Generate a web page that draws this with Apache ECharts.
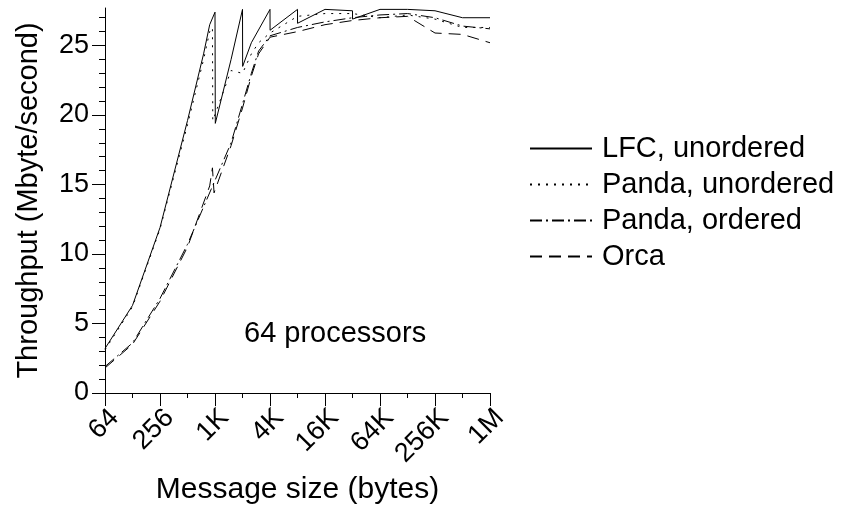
<!DOCTYPE html>
<html><head><meta charset="utf-8">
<script src="https://cdn.jsdelivr.net/npm/echarts@6/dist/echarts.min.js"></script>
<style>html,body{margin:0;padding:0;background:#fff}#c{width:843px;height:515px}</style>
</head><body><div id="c"></div>
<script>
// Message sizes in bytes and throughput in Mbyte/second
const lfcSizes = [64,128,256,512,768,896,1024,1032,1536,2048,2056,2560,4096,4104,8192,8200,16384,32768,32800,65536,131072,262144,524288,1048576];
const lfcValues = [3.2,6.3,11.9,19.6,24.4,26.5,27.4,19.4,24.0,27.6,23.5,25.2,27.6,26.1,27.6,26.6,27.6,27.5,26.9,27.6,27.6,27.5,27.0,27.0];

const pandaUnordSizes = [64,128,256,512,768,896,960,968,1536,2048,2560,3072,4096,8192,16384,32768,65536,131072,262144,524288,1048576];
const pandaUnordValues = [3.1,6.2,11.8,19.3,24.0,26.0,26.3,19.6,23.2,23.0,24.4,25.2,25.9,27.1,27.3,27.3,27.0,27.2,26.9,26.3,26.3];

const pandaOrdSizes = [64,128,256,512,1024,1536,2048,2560,3072,4096,8192,16384,32768,65536,131072,262144,524288,1048576];
const pandaOrdValues = [1.9,3.6,6.8,10.7,15.3,18.0,20.8,23.0,24.6,25.7,26.3,26.7,27.0,27.2,27.3,27.0,26.4,26.2];

const orcaSizes = [64,128,256,512,896,960,1000,1536,2048,2560,3072,4096,8192,16384,32768,65536,131072,262144,524288,1048576];
const orcaValues = [1.8,3.5,6.6,10.5,14.9,16.2,14.4,17.8,20.5,22.8,24.4,25.6,26.0,26.5,26.8,27.0,27.1,25.9,25.8,25.2];

const seriesNames = ['LFC, unordered','Panda, unordered','Panda, ordered','Orca'];

const xTickSizes = [64,256,1024,4096,16384,65536,262144,1048576];
const xTickLabels = ['64','256','1K','4K','16K','64K','256K','1M'];
const yMajorTicks = [0,5,10,15,20,25];
const yMinorTicks = [1,2,3,4,6,7,8,9,11,12,13,14,16,17,18,19,21,22,23,24,26,27];

const FONT = "'Liberation Sans', Arial, Helvetica, sans-serif";
const toData = (s, v) => s.map((x, i) => [Math.log2(x), v[i]]);

const chart = echarts.init(document.getElementById('c'), null, {renderer: 'canvas'});
const axisLine = {show: true, lineStyle: {color: '#000', width: 1}};
const mk = (name, sizes, vals, type) => ({
  name, type: 'line', symbol: 'none', showSymbol: false, animation: false,
  lineStyle: {color: '#000', width: 1, type},
  itemStyle: {color: '#000'},
  data: toData(sizes, vals)
});

chart.setOption({
  animation: false,
  backgroundColor: '#fff',
  textStyle: {fontFamily: FONT},
  grid: {left: 105, right: 353, top: 8, bottom: 122, containLabel: false},
  xAxis: {
    type: 'value', min: 6, max: 20, interval: 2,
    name: 'Message size (bytes)', nameLocation: 'middle', nameGap: 78,
    nameTextStyle: {fontSize: 30, color: '#000', fontFamily: FONT},
    axisLine,
    axisTick: {show: true, length: 13, lineStyle: {color: '#000'}},
    minorTick: {show: true, splitNumber: 2, length: 5, lineStyle: {color: '#000'}},
    splitLine: {show: false}, minorSplitLine: {show: false},
    axisLabel: {
      rotate: 45, fontSize: 27, color: '#000', margin: 11, fontFamily: FONT,
      verticalAlign: 'top',
      formatter: (v) => {
        const i = xTickSizes.findIndex(s => Math.abs(Math.log2(s) - v) < 1e-6);
        return i >= 0 ? xTickLabels[i] : '';
      }
    }
  },
  yAxis: [{
    type: 'value', min: 0, max: 27.7, position: 'left',
    name: 'Throughput (Mbyte/second)', nameLocation: 'middle', nameGap: 62,
    nameTextStyle: {fontSize: 29, color: '#000', fontFamily: FONT},
    axisLine,
    axisTick: {show: true, length: 13, customValues: yMajorTicks, lineStyle: {color: '#000'}},
    axisLabel: {show: true, customValues: yMajorTicks, fontSize: 27, color: '#000', margin: 16, fontFamily: FONT},
    splitLine: {show: false}
  }, {
    type: 'value', min: 0, max: 27.7, position: 'left',
    axisLine: {show: false},
    axisTick: {show: true, length: 6, customValues: yMinorTicks, lineStyle: {color: '#000'}},
    axisLabel: {show: false},
    splitLine: {show: false}
  }],
  legend: {
    orient: 'vertical', left: 524, top: 129, itemWidth: 62, itemHeight: 14, itemGap: 7,
    itemStyle: {opacity: 0},
    textStyle: {fontSize: 29, color: '#000', fontFamily: FONT, padding: [0, 0, 0, 5]},
    data: seriesNames
  },
  graphic: [{
    type: 'text', left: 244, top: 319,
    style: {text: '64 processors', fontSize: 29, fill: '#000', fontFamily: FONT}
  }],
  series: [
    mk(seriesNames[0], lfcSizes, lfcValues, 'solid'),
    mk(seriesNames[1], pandaUnordSizes, pandaUnordValues, [2, 6]),
    mk(seriesNames[2], pandaOrdSizes, pandaOrdValues, [12, 4, 2, 4]),
    mk(seriesNames[3], orcaSizes, orcaValues, [12, 7])
  ]
});
</script>
</body></html>
